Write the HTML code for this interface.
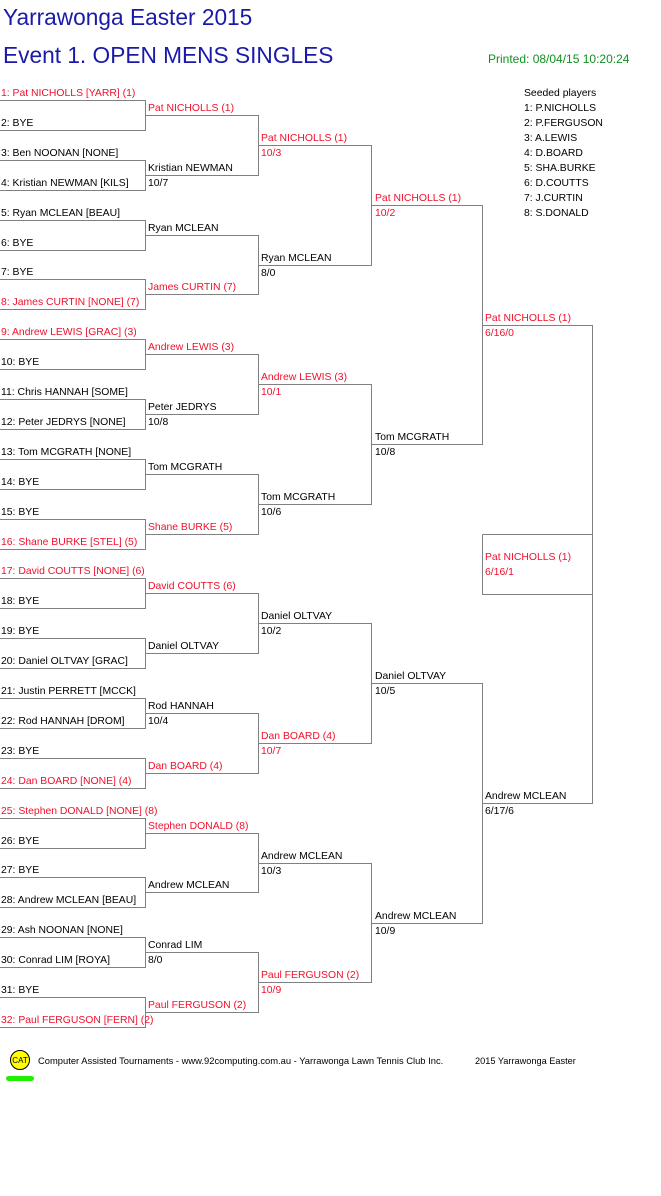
<!DOCTYPE html>
<html><head><meta charset="utf-8"><style>
body{margin:0;background:#fff;width:661px;height:1196px;overflow:hidden}
svg{display:block}
text{font-family:"Liberation Sans",sans-serif;font-size:10.4px;fill:#000}
.r{fill:#f0102c}
.t{font-size:22.7px;fill:#1a1aa8}
</style></head><body>
<svg width="661" height="1196" viewBox="0 0 661 1196">
<text class="t" x="3" y="25">Yarrawonga Easter 2015</text>
<text class="t" x="3" y="63">Event 1. OPEN MENS SINGLES</text>
<text x="488" y="63" style="font-size:12px;fill:#109020">Printed: 08/04/15 10:20:24</text>
<g>
<text x="524" y="96">Seeded players</text>
<text x="524" y="111">1: P.NICHOLLS</text>
<text x="524" y="126">2: P.FERGUSON</text>
<text x="524" y="141">3: A.LEWIS</text>
<text x="524" y="156">4: D.BOARD</text>
<text x="524" y="171">5: SHA.BURKE</text>
<text x="524" y="186">6: D.COUTTS</text>
<text x="524" y="201">7: J.CURTIN</text>
<text x="524" y="216">8: S.DONALD</text>
</g>
<g fill="none" stroke="#808080" stroke-width="1">
<path d="M0 100.5H145.5V130.5H0M0 160.5H145.5V190.5H0M0 220.5H145.5V250.5H0M0 279.5H145.5V309.5H0M0 339.5H145.5V369.5H0M0 399.5H145.5V429.5H0M0 459.5H145.5V489.5H0M0 519.5H145.5V549.5H0M0 578.5H145.5V608.5H0M0 638.5H145.5V668.5H0M0 698.5H145.5V728.5H0M0 758.5H145.5V788.5H0M0 818.5H145.5V848.5H0M0 877.5H145.5V907.5H0M0 937.5H145.5V967.5H0M0 997.5H145.5V1027.5H0"/>
<path d="M145 115.5H258.5V175.5H145M145 235.5H258.5V294.5H145M145 354.5H258.5V414.5H145M145 474.5H258.5V534.5H145M145 593.5H258.5V653.5H145M145 713.5H258.5V773.5H145M145 833.5H258.5V892.5H145M145 952.5H258.5V1012.5H145"/>
<path d="M258 145.5H371.5V265.5H258M258 384.5H371.5V504.5H258M258 623.5H371.5V743.5H258M258 863.5H371.5V982.5H258"/>
<path d="M371 205.5H482.5V444.5H371M371 683.5H482.5V923.5H371"/>
<path d="M482 325.5H592.5V803.5H482"/>
<path d="M482.5 534.5H592.5M482.5 534.5V594.5H592.5"/>
</g>
<g>
<text class="r" x="1" y="96">1: Pat NICHOLLS [YARR] (1)</text>
<text x="1" y="126">2: BYE</text>
<text x="1" y="156">3: Ben NOONAN [NONE]</text>
<text x="1" y="186">4: Kristian NEWMAN [KILS]</text>
<text x="1" y="216">5: Ryan MCLEAN [BEAU]</text>
<text x="1" y="246">6: BYE</text>
<text x="1" y="275">7: BYE</text>
<text class="r" x="1" y="305">8: James CURTIN [NONE] (7)</text>
<text class="r" x="1" y="335">9: Andrew LEWIS [GRAC] (3)</text>
<text x="1" y="365">10: BYE</text>
<text x="1" y="395">11: Chris HANNAH [SOME]</text>
<text x="1" y="425">12: Peter JEDRYS [NONE]</text>
<text x="1" y="455">13: Tom MCGRATH [NONE]</text>
<text x="1" y="485">14: BYE</text>
<text x="1" y="515">15: BYE</text>
<text class="r" x="1" y="545">16: Shane BURKE [STEL] (5)</text>
<text class="r" x="1" y="574">17: David COUTTS [NONE] (6)</text>
<text x="1" y="604">18: BYE</text>
<text x="1" y="634">19: BYE</text>
<text x="1" y="664">20: Daniel OLTVAY [GRAC]</text>
<text x="1" y="694">21: Justin PERRETT [MCCK]</text>
<text x="1" y="724">22: Rod HANNAH [DROM]</text>
<text x="1" y="754">23: BYE</text>
<text class="r" x="1" y="784">24: Dan BOARD [NONE] (4)</text>
<text class="r" x="1" y="814">25: Stephen DONALD [NONE] (8)</text>
<text x="1" y="844">26: BYE</text>
<text x="1" y="873">27: BYE</text>
<text x="1" y="903">28: Andrew MCLEAN [BEAU]</text>
<text x="1" y="933">29: Ash NOONAN [NONE]</text>
<text x="1" y="963">30: Conrad LIM [ROYA]</text>
<text x="1" y="993">31: BYE</text>
<text class="r" x="1" y="1023">32: Paul FERGUSON [FERN] (2)</text>
</g>
<g>
<text class="r" x="148" y="111">Pat NICHOLLS (1)</text>
<text x="148" y="171">Kristian NEWMAN</text><text x="148" y="186">10/7</text>
<text x="148" y="231">Ryan MCLEAN</text>
<text class="r" x="148" y="290">James CURTIN (7)</text>
<text class="r" x="148" y="350">Andrew LEWIS (3)</text>
<text x="148" y="410">Peter JEDRYS</text><text x="148" y="425">10/8</text>
<text x="148" y="470">Tom MCGRATH</text>
<text class="r" x="148" y="530">Shane BURKE (5)</text>
<text class="r" x="148" y="589">David COUTTS (6)</text>
<text x="148" y="649">Daniel OLTVAY</text>
<text x="148" y="709">Rod HANNAH</text><text x="148" y="724">10/4</text>
<text class="r" x="148" y="769">Dan BOARD (4)</text>
<text class="r" x="148" y="829">Stephen DONALD (8)</text>
<text x="148" y="888">Andrew MCLEAN</text>
<text x="148" y="948">Conrad LIM</text><text x="148" y="963">8/0</text>
<text class="r" x="148" y="1008">Paul FERGUSON (2)</text>
</g>
<g>
<text class="r" x="261" y="141">Pat NICHOLLS (1)</text><text class="r" x="261" y="156">10/3</text>
<text x="261" y="261">Ryan MCLEAN</text><text x="261" y="276">8/0</text>
<text class="r" x="261" y="380">Andrew LEWIS (3)</text><text class="r" x="261" y="395">10/1</text>
<text x="261" y="500">Tom MCGRATH</text><text x="261" y="515">10/6</text>
<text x="261" y="619">Daniel OLTVAY</text><text x="261" y="634">10/2</text>
<text class="r" x="261" y="739">Dan BOARD (4)</text><text class="r" x="261" y="754">10/7</text>
<text x="261" y="859">Andrew MCLEAN</text><text x="261" y="874">10/3</text>
<text class="r" x="261" y="978">Paul FERGUSON (2)</text><text class="r" x="261" y="993">10/9</text>
</g>
<g>
<text class="r" x="375" y="201">Pat NICHOLLS (1)</text><text class="r" x="375" y="216">10/2</text>
<text x="375" y="440">Tom MCGRATH</text><text x="375" y="455">10/8</text>
<text x="375" y="679">Daniel OLTVAY</text><text x="375" y="694">10/5</text>
<text x="375" y="919">Andrew MCLEAN</text><text x="375" y="934">10/9</text>
</g>
<g>
<text class="r" x="485" y="321">Pat NICHOLLS (1)</text><text class="r" x="485" y="336">6/16/0</text>
<text x="485" y="799">Andrew MCLEAN</text><text x="485" y="814">6/17/6</text>
<text class="r" x="485" y="560">Pat NICHOLLS (1)</text><text class="r" x="485" y="575">6/16/1</text>
</g>
<circle cx="20" cy="1060" r="9.5" fill="#ffff00" stroke="#000" stroke-width="1"/>
<text x="20" y="1063" text-anchor="middle" style="font-size:8px">CAT</text>
<rect x="6" y="1076" width="28" height="5" rx="2.5" fill="#22ee00"/>
<text x="38" y="1064" style="font-size:9.4px">Computer Assisted Tournaments - www.92computing.com.au -  Yarrawonga Lawn Tennis Club Inc.</text>
<text x="475" y="1064" style="font-size:9.2px">2015 Yarrawonga Easter</text>
</svg>
</body></html>
